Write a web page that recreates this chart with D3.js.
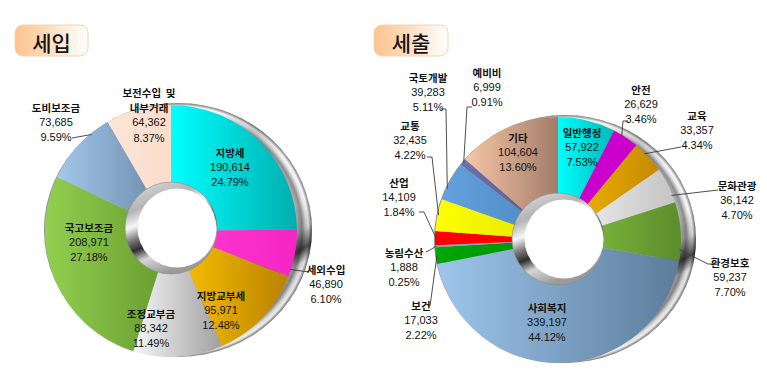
<!DOCTYPE html>
<html><head><meta charset="utf-8">
<script src="https://cdn.jsdelivr.net/npm/d3@7"></script>
<style>body{margin:0;background:#fff}svg{display:block}</style>
</head><body>
<svg id="chart" width="767" height="380"></svg>
<script>
// ---------- data ----------
const revenueCategories = ["지방세","세외수입","지방교부세","조정교부금","국고보조금","도비보조금","보전수입 및 내부거래"];
const revenueAmounts = [190614,46890,95971,88342,208971,73685,64362];
const revenueShares = [24.79,6.10,12.48,11.49,27.18,9.59,8.37];

const expenditureCategories = ["일반행정","안전","교육","문화관광","환경보호","사회복지","보건","농림수산","산업","교통","국토개발","예비비","기타"];
const expenditureAmounts = [57922,26629,33357,36142,59237,339197,17033,1888,14109,32435,39283,6999,104604];
const expenditureShares = [7.53,3.46,4.34,4.70,7.70,44.12,2.22,0.25,1.84,4.22,5.11,0.91,13.60];

const titles = ["세입","세출"];

// ---------- styles / layout ----------
const revenueColors = [["#00FFFF","#00AEAE"],["#FF3ACF","#F526C4"],["#FFC400","#B88200"],["#F6F6F6","#A0A0A0"],["#92D050","#679A2E"],["#A3C8EC","#6886A4"],["#FCE6D8","#FBDDCA"]];
const expenditureColors = [["#00FFFF","#00B8B8"],["#CC00CC","#CC00CC"],["#F7BA00","#C48A00"],["#F4F4F4","#C4C4C4"],["#86C440","#5C8C2C"],["#9EC6EC","#5C7C9A"],["#00A800","#008C00"],["#6FA8DC","#6FA8DC"],["#FF0000","#FF0000"],["#FFFF00","#E0E000"],["#62A2DE","#4C86BE"],["#7070AA","#5A5A90"],["#F8C6A6","#A27C68"]];

const revenueLabelPos = [[230,152],[326,269],[221,295],[151,313],[89,227],[56,107],[149,92]];
const expenditureLabelPos = [[582,132],[641,89],[697,115],[737,185],[730,262],[547,307],[421,305],[404,252],[399,182],[410,125],[428,77],[487,72],[518,137]];

const revenueLeaders = [
  {i:1, frac:0.85, pts:[[309,272]]},
  {i:5, frac:0.73, pts:[[72,138]]}
];
const expenditureLeaders = [
  {i:1, frac:0.35, pts:[[628,121],[623,121]]},
  {i:2, frac:0.35, pts:[[681,147]]},
  {i:3, frac:0.79, pts:[[718,190]]},
  {i:4, frac:0.81, pts:[[713,264],[708,264]]},
  {i:6, frac:0.5, pts:[[430,306]]},
  {i:7, frac:0.5, pts:[[426,252],[430,250]]},
  {i:8, frac:0.5, pts:[[419,212],[424,212]]},
  {i:9, frac:0.5, pts:[[427,157],[432,157]]},
  {i:10, frac:0.3, pts:[[441,109],[446,109]]},
  {i:11, frac:0.5, pts:[[472,107],[467,107]]}
];

// font check for narrow numeric font
function textWidth(font, s){const c=document.createElement("canvas").getContext("2d");c.font=font;return c.measureText(s).width;}
let numFont = "'Liberation Sans Narrow'", numSize = 12.5;
if (Math.abs(textWidth("12.5px 'Liberation Sans Narrow', monospace","190,614")-textWidth("12.5px monospace","190,614"))<0.5) { numFont="'Liberation Sans', Arial"; numSize=11; }

const svg = d3.select("#chart");
const defs = svg.append("defs");

function linGrad(id, stops, x1=0,y1=0,x2=1,y2=0){
  const g = defs.append("linearGradient").attr("id",id).attr("x1",x1).attr("y1",y1).attr("x2",x2).attr("y2",y2);
  stops.forEach(s=>g.append("stop").attr("offset",s[0]).attr("stop-color",s[1]).attr("stop-opacity",s[2]===undefined?1:s[2]));
  return `url(#${id})`;
}
const rimRadial = defs.append("radialGradient").attr("id","rim").attr("cx",0.5).attr("cy",0.5).attr("r",0.5);
[[0.88,"#bdbdbd"],[0.925,"#8e8e8e"],[0.955,"#e6e6e6"],[0.975,"#f8f8f8"],[0.99,"#a8a8a8"],[1,"#7a7a7a"]].forEach(s=>rimRadial.append("stop").attr("offset",s[0]).attr("stop-color",s[1]));
const rimShade = linGrad("rimShade",[[0,"#000",0],[0.62,"#000",0],[0.7,"#000",0.15],[0.76,"#000",0.7],[0.8,"#000",0.1],[1,"#000",0]],0.2,0,0.8,1);
const rimTop = linGrad("rimTop",[[0,"#fff",0],[0.35,"#000",0],[0.45,"#000",0.18],[0.55,"#000",0],[1,"#000",0]],0,0,1,1);
const metal = linGrad("metal",[[0,"#e4e4e4"],[0.3,"#b4b4b4"],[0.45,"#f6f6f6"],[0.58,"#777"],[0.68,"#2e2e2e"],[0.8,"#d6d6d6"],[1,"#9a9a9a"]],0,0,0.4,1);
const titleGrad = linGrad("titleGrad",[[0,"#FBC38C"],[0.45,"#FDDDBE"],[1,"#FFFFFF"]]);

function drawTitle(text, x, y, w, h){
  svg.append("rect").attr("x",x).attr("y",y).attr("width",w).attr("height",h).attr("rx",8)
    .attr("fill",titleGrad).attr("stroke","#F7D3B0").attr("stroke-width",1);
  svg.append("text").attr("x",x+w/2).attr("y",y+h/2+1).attr("text-anchor","middle").attr("dominant-baseline","central")
    .attr("font-family","'Noto Sans CJK KR'").attr("font-size",21).attr("font-weight",500).attr("fill","#151515").text(text);
}
drawTitle(titles[0], 15, 25, 73, 31);
drawTitle(titles[1], 374, 25, 74, 31);

function drawDonut(opt){
  const {id, names, amounts, shares, colors, cx, cy, R, hole, labelPos, leaders, breakAt} = opt;
  const g = svg.append("g");
  g.append("ellipse").attr("cx",cx+7).attr("cy",cy-1).attr("rx",R+8).attr("ry",R+1).attr("fill","url(#rim)");
  g.append("ellipse").attr("cx",cx+7).attr("cy",cy-1).attr("rx",R+8).attr("ry",R+1).attr("fill",rimShade);
  g.append("ellipse").attr("cx",cx+7).attr("cy",cy-1).attr("rx",R+8).attr("ry",R+1).attr("fill",rimTop);

  const pie = d3.pie().sort(null).value(d=>d.amount);
  const data = names.map((n,i)=>({name:n, amount:amounts[i], share:shares[i], i}));
  const arcs = pie(data);
  const arc = d3.arc().innerRadius(0).outerRadius(R);
  arcs.forEach((a,i)=>{ linGrad(`${id}g${i}`, [[0,colors[i][0]],[1,colors[i][1]]]); });
  g.append("g").attr("transform",`translate(${cx},${cy})`).selectAll("path").data(arcs).join("path")
    .attr("d",arc).attr("fill",(d,i)=>`url(#${id}g${i})`);

  g.append("circle").attr("cx",cx+hole.dx).attr("cy",cy+hole.dy).attr("r",hole.r).attr("fill",metal).attr("stroke","#8a8a8a").attr("stroke-width",0.6);
  g.append("circle").attr("cx",cx+hole.dx+hole.wx).attr("cy",cy+hole.dy).attr("r",hole.wr).attr("fill","#fff");

  const line = d3.line();
  leaders.forEach(L=>{
    const a = arcs[L.i];
    const ang = a.startAngle + (a.endAngle-a.startAngle)*L.frac;
    const end = [cx + (R-1)*Math.sin(ang), cy - (R-1)*Math.cos(ang)];
    g.append("path").attr("d",line([...L.pts,end])).attr("fill","none").attr("stroke","#3a3a3a").attr("stroke-width",0.9);
  });

  arcs.forEach((a,i)=>{
    const d = a.data;
    const [x,y] = labelPos[i];
    let nameLines = [d.name];
    if (breakAt && d.name.includes(breakAt)) { const k = d.name.indexOf(breakAt); nameLines = [d.name.slice(0,k).replace(" 및","\u00A0\u00A0및"), d.name.slice(k+1)]; }
    const lines = nameLines.map(t=>({t, name:true})).concat([{t:d3.format(",")(d.amount)},{t:d3.format(".2f")(d.share)+"%"}]);
    const t = g.append("text").attr("text-anchor","middle");
    lines.forEach((l,k)=>{
      t.append("tspan").attr("x",x).attr("y",y+k*15.2).attr("dominant-baseline","central")
        .attr("font-family", l.name ? "'Noto Sans CJK KR'" : numFont+", 'Noto Sans CJK KR'")
        .attr("font-size", l.name ? 10.5 : numSize).attr("font-weight", l.name ? 700 : 400)
        .attr("fill","#111").text(l.t);
    });
  });
}

drawDonut({id:"rev", names:revenueCategories, amounts:revenueAmounts, shares:revenueShares, colors:revenueColors,
  cx:171, cy:231, R:126, hole:{dx:0,dy:-3,r:46,wx:6,wr:39.5}, labelPos:revenueLabelPos, leaders:revenueLeaders, breakAt:" 내부거래"});
drawDonut({id:"exp", names:expenditureCategories, amounts:expenditureAmounts, shares:expenditureShares, colors:expenditureColors,
  cx:558, cy:240, R:123, hole:{dx:0,dy:-1,r:46,wx:6,wr:39.5}, labelPos:expenditureLabelPos, leaders:expenditureLeaders});
</script>
</body></html>
